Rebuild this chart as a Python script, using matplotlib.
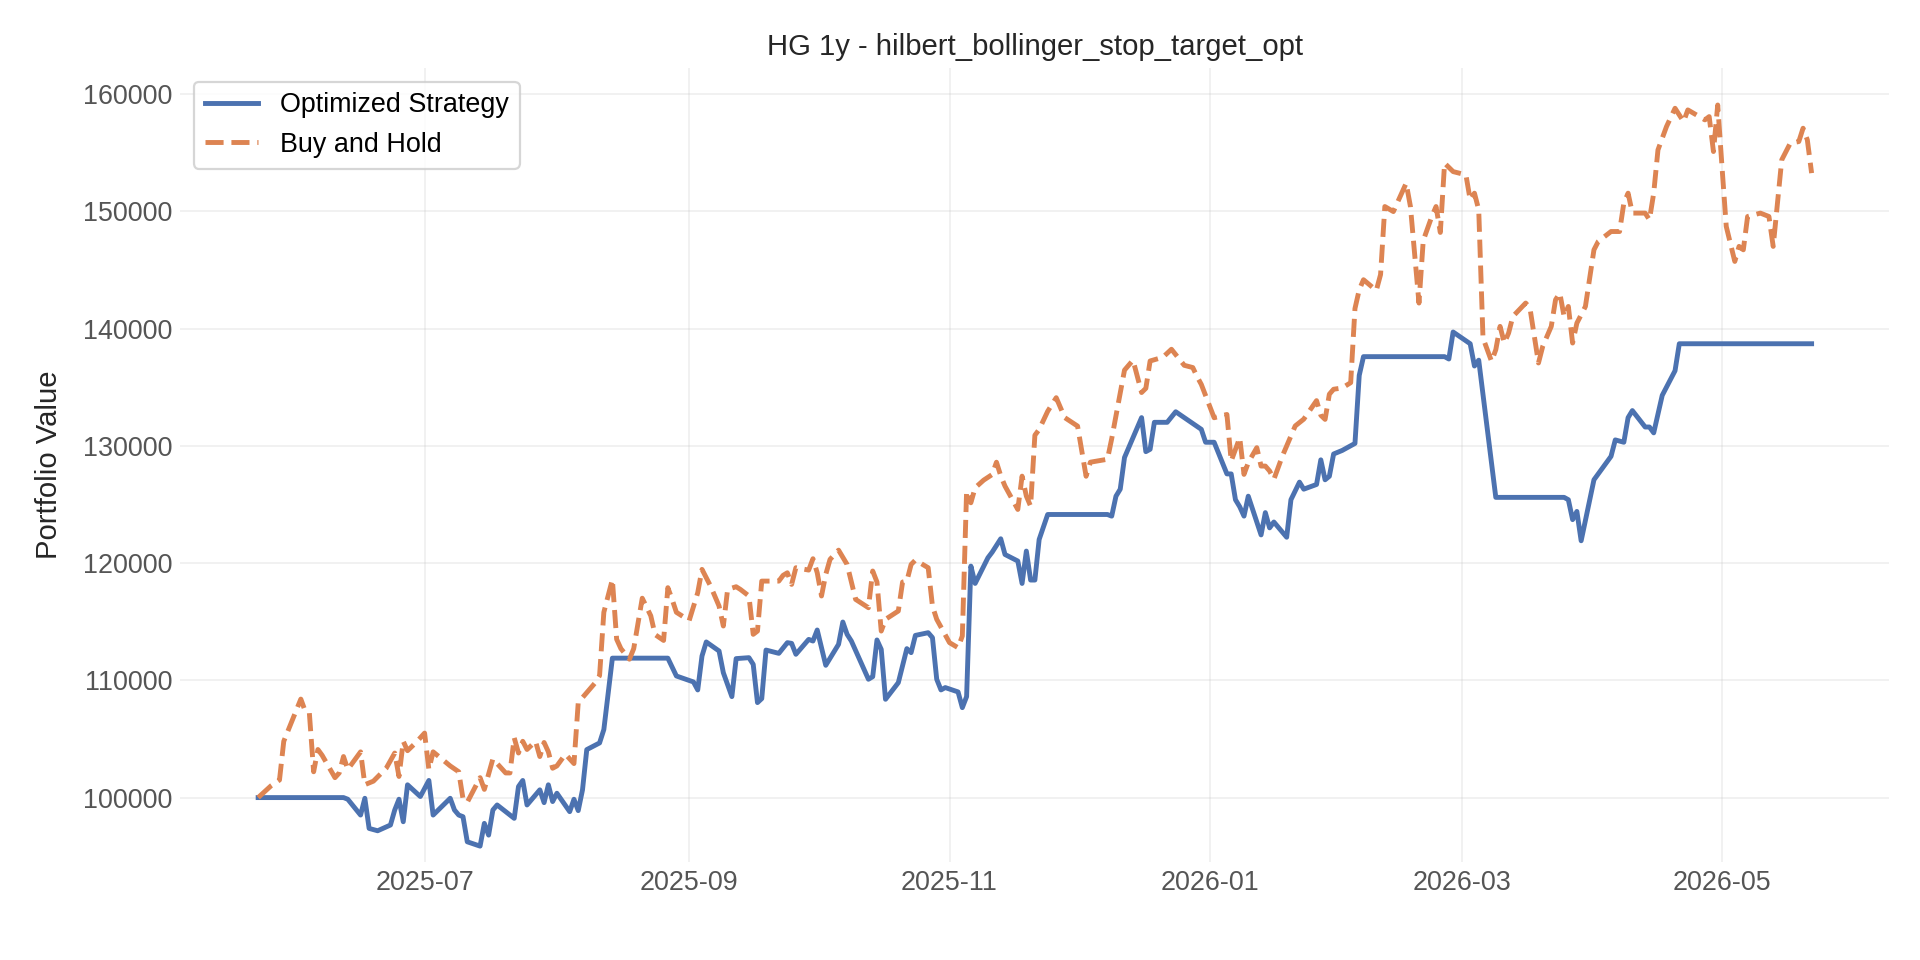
import matplotlib
matplotlib.use("Agg")
import matplotlib.pyplot as plt
import matplotlib.dates as mdates
import pandas as pd

# Optimized Strategy equity (dates + values)
strat_dates = [
    "2025-05-23", "2025-06-12", "2025-06-13", "2025-06-16", "2025-06-17", "2025-06-18",
    "2025-06-20", "2025-06-23", "2025-06-24", "2025-06-25", "2025-06-26", "2025-06-27",
    "2025-06-30", "2025-07-02", "2025-07-03", "2025-07-07", "2025-07-08", "2025-07-09",
    "2025-07-10", "2025-07-11", "2025-07-14", "2025-07-15", "2025-07-16", "2025-07-17",
    "2025-07-18", "2025-07-22", "2025-07-23", "2025-07-24", "2025-07-25", "2025-07-28",
    "2025-07-29", "2025-07-30", "2025-07-31", "2025-08-01", "2025-08-04", "2025-08-05",
    "2025-08-06", "2025-08-07", "2025-08-08", "2025-08-11", "2025-08-12", "2025-08-14",
    "2025-08-27", "2025-08-29", "2025-09-02", "2025-09-03", "2025-09-04", "2025-09-05",
    "2025-09-08", "2025-09-09", "2025-09-11", "2025-09-12", "2025-09-15", "2025-09-16",
    "2025-09-17", "2025-09-18", "2025-09-19", "2025-09-22", "2025-09-24", "2025-09-25",
    "2025-09-26", "2025-09-29", "2025-09-30", "2025-10-01", "2025-10-03", "2025-10-06",
    "2025-10-07", "2025-10-08", "2025-10-09", "2025-10-13", "2025-10-14", "2025-10-15",
    "2025-10-16", "2025-10-17", "2025-10-20", "2025-10-22", "2025-10-23", "2025-10-24",
    "2025-10-27", "2025-10-28", "2025-10-29", "2025-10-30", "2025-10-31", "2025-11-03",
    "2025-11-04", "2025-11-05", "2025-11-06", "2025-11-07", "2025-11-10", "2025-11-11",
    "2025-11-13", "2025-11-14", "2025-11-17", "2025-11-18", "2025-11-19", "2025-11-20",
    "2025-11-21", "2025-11-22", "2025-11-24", "2025-12-08", "2025-12-09", "2025-12-10",
    "2025-12-11", "2025-12-12", "2025-12-16", "2025-12-17", "2025-12-18", "2025-12-19",
    "2025-12-22", "2025-12-24", "2025-12-30", "2025-12-31", "2026-01-02", "2026-01-05",
    "2026-01-06", "2026-01-07", "2026-01-08", "2026-01-09", "2026-01-10", "2026-01-11",
    "2026-01-13", "2026-01-14", "2026-01-15", "2026-01-16", "2026-01-19", "2026-01-20",
    "2026-01-22", "2026-01-23", "2026-01-26", "2026-01-27", "2026-01-28", "2026-01-29",
    "2026-01-30", "2026-02-01", "2026-02-04", "2026-02-05", "2026-02-06", "2026-02-25",
    "2026-02-26", "2026-02-27", "2026-03-03", "2026-03-04", "2026-03-05", "2026-03-09",
    "2026-03-25", "2026-03-26", "2026-03-27", "2026-03-28", "2026-03-29", "2026-04-01",
    "2026-04-05", "2026-04-06", "2026-04-08", "2026-04-09", "2026-04-10", "2026-04-13",
    "2026-04-14", "2026-04-15", "2026-04-17", "2026-04-20", "2026-04-21", "2026-05-22",
]
strat_values = [
    100000, 100000, 99860, 98510, 99940, 97370,
    97170, 97660, 98940, 99860, 97940, 101090,
    100090, 101460, 98510, 99940, 98940, 98510,
    98370, 96230, 95860, 97800, 96800, 98940,
    99370, 98230, 100940, 101460, 99370, 100660,
    99570, 101090, 99660, 100370, 98800, 99860,
    98890, 100660, 104090, 104660, 105800, 111890,
    111890, 110370, 109860, 109180, 112070, 113270,
    112500, 110650, 108610, 111850, 111930, 111360,
    108100, 108440, 112580, 112300, 113210, 113150,
    112220, 113490, 113350, 114290, 111280, 113070,
    114970, 113920, 113350, 110090, 110310, 113440,
    112640, 108380, 109800, 112700, 112360, 113830,
    114060, 113640, 110090, 109180, 109380, 109010,
    107670, 108610, 119740, 118260, 120450, 120930,
    122070, 120730, 120170, 118260, 121020, 118550,
    118550, 122010, 124140, 124140, 124000, 125700,
    126300, 129000, 132400, 129500, 129700, 132000,
    132000, 132900, 131400, 130300, 130300, 127600,
    127600, 125400, 124800, 124000, 125700, 124600,
    122400, 124300, 123000, 123500, 122200, 125400,
    126900, 126300, 126700, 128800, 127100, 127400,
    129300, 129600, 130200, 136000, 137600, 137600,
    137400, 139700, 138700, 136800, 137300, 125600,
    125600, 125400, 123700, 124400, 121900, 127100,
    129100, 130500, 130300, 132400, 133000, 131600,
    131600, 131100, 134300, 136400, 138700, 138700,
]

# Buy and Hold equity
bh_dates = [
    "2025-05-23", "2025-05-26", "2025-05-28", "2025-05-29", "2025-05-30", "2025-06-02",
    "2025-06-03", "2025-06-04", "2025-06-05", "2025-06-06", "2025-06-07", "2025-06-10",
    "2025-06-11", "2025-06-12", "2025-06-13", "2025-06-16", "2025-06-17", "2025-06-19",
    "2025-06-22", "2025-06-24", "2025-06-25", "2025-06-26", "2025-06-27", "2025-06-29",
    "2025-07-01", "2025-07-02", "2025-07-03", "2025-07-07", "2025-07-09", "2025-07-10",
    "2025-07-11", "2025-07-14", "2025-07-15", "2025-07-17", "2025-07-20", "2025-07-21",
    "2025-07-22", "2025-07-23", "2025-07-24", "2025-07-25", "2025-07-27", "2025-07-28",
    "2025-07-29", "2025-07-30", "2025-07-31", "2025-08-01", "2025-08-03", "2025-08-05",
    "2025-08-06", "2025-08-10", "2025-08-11", "2025-08-12", "2025-08-14", "2025-08-15",
    "2025-08-16", "2025-08-18", "2025-08-19", "2025-08-21", "2025-08-23", "2025-08-24",
    "2025-08-26", "2025-08-27", "2025-08-28", "2025-08-29", "2025-09-01", "2025-09-03",
    "2025-09-04", "2025-09-06", "2025-09-08", "2025-09-09", "2025-09-10", "2025-09-12",
    "2025-09-13", "2025-09-15", "2025-09-16", "2025-09-17", "2025-09-18", "2025-09-22",
    "2025-09-23", "2025-09-24", "2025-09-25", "2025-09-26", "2025-09-29", "2025-09-30",
    "2025-10-01", "2025-10-02", "2025-10-03", "2025-10-04", "2025-10-06", "2025-10-08",
    "2025-10-10", "2025-10-13", "2025-10-14", "2025-10-15", "2025-10-16", "2025-10-17",
    "2025-10-20", "2025-10-21", "2025-10-22", "2025-10-23", "2025-10-24", "2025-10-27",
    "2025-10-28", "2025-10-29", "2025-11-01", "2025-11-03", "2025-11-04", "2025-11-05",
    "2025-11-06", "2025-11-07", "2025-11-09", "2025-11-11", "2025-11-12", "2025-11-13",
    "2025-11-14", "2025-11-17", "2025-11-18", "2025-11-19", "2025-11-20", "2025-11-21",
    "2025-11-22", "2025-11-24", "2025-11-26", "2025-11-28", "2025-12-01", "2025-12-03",
    "2025-12-04", "2025-12-08", "2025-12-09", "2025-12-12", "2025-12-14", "2025-12-16",
    "2025-12-17", "2025-12-18", "2025-12-21", "2025-12-23", "2025-12-26", "2025-12-28",
    "2025-12-29", "2025-12-30", "2026-01-02", "2026-01-05", "2026-01-06", "2026-01-08",
    "2026-01-09", "2026-01-10", "2026-01-12", "2026-01-13", "2026-01-14", "2026-01-15",
    "2026-01-16", "2026-01-18", "2026-01-21", "2026-01-23", "2026-01-26", "2026-01-27",
    "2026-01-28", "2026-01-29", "2026-01-30", "2026-02-01", "2026-02-03", "2026-02-04",
    "2026-02-05", "2026-02-06", "2026-02-09", "2026-02-10", "2026-02-11", "2026-02-13",
    "2026-02-16", "2026-02-17", "2026-02-19", "2026-02-20", "2026-02-22", "2026-02-23",
    "2026-02-24", "2026-02-25", "2026-02-27", "2026-03-02", "2026-03-03", "2026-03-04",
    "2026-03-05", "2026-03-06", "2026-03-08", "2026-03-09", "2026-03-10", "2026-03-11",
    "2026-03-12", "2026-03-13", "2026-03-16", "2026-03-17", "2026-03-19", "2026-03-20",
    "2026-03-22", "2026-03-23", "2026-03-24", "2026-03-25", "2026-03-26", "2026-03-27",
    "2026-03-28", "2026-03-30", "2026-04-01", "2026-04-02", "2026-04-05", "2026-04-07",
    "2026-04-08", "2026-04-09", "2026-04-10", "2026-04-13", "2026-04-14", "2026-04-15",
    "2026-04-16", "2026-04-18", "2026-04-20", "2026-04-22", "2026-04-23", "2026-04-27",
    "2026-04-28", "2026-04-29", "2026-04-30", "2026-05-01", "2026-05-02", "2026-05-04",
    "2026-05-05", "2026-05-06", "2026-05-07", "2026-05-10", "2026-05-12", "2026-05-13",
    "2026-05-15", "2026-05-17", "2026-05-19", "2026-05-20", "2026-05-21", "2026-05-22",
]
bh_values = [
    100000, 101000, 101500, 104800, 105700, 108400,
    107400, 107200, 102200, 104100, 103600, 101700,
    102100, 103500, 102400, 103900, 101100, 101400,
    102500, 103800, 101800, 104800, 104000, 104700,
    105500, 102400, 103900, 102700, 102200, 99900,
    99600, 101700, 100700, 103300, 102100, 102100,
    105100, 103800, 104800, 104100, 104800, 103500,
    104700, 103900, 102500, 102700, 103700, 102900,
    108100, 109800, 110400, 115800, 118600, 113500,
    112700, 111800, 112700, 117000, 115500, 113900,
    113400, 117900, 116900, 115800, 115100, 117470,
    119460, 118040, 116330, 114630, 117750, 117980,
    117750, 117190, 113920, 114200, 118460, 118460,
    118950, 119170, 118180, 119600, 119400, 120370,
    119170, 117190, 119030, 120310, 121100, 119880,
    116900, 116190, 119320, 118380, 114200, 115200,
    115910, 118380, 118460, 119880, 120250, 119600,
    116330, 115200, 113210, 112780, 113780, 126130,
    125140, 126420, 127070, 127550, 128600, 127440,
    126560, 124570, 127410, 125710, 124850, 130900,
    131390, 132940, 134100, 132400, 131680, 127400,
    128600, 128850, 130600, 136450, 137300, 134540,
    134900, 137230, 137550, 138230, 136860, 136670,
    135900, 135230, 132390, 132670, 128700, 130690,
    127560, 128560, 129840, 128270, 128270, 127850,
    127140, 129130, 131690, 132270, 133850, 132600,
    132250, 134400, 134820, 134930, 135380, 141700,
    143300, 144160, 143240, 144600, 150400, 149970,
    152390, 150400, 142170, 147500, 149550, 150400,
    148190, 154100, 153380, 153100, 150970, 151540,
    150120, 139190, 137200, 138190, 140180, 138760,
    139610, 141030, 142170, 141750, 137060, 138480,
    140180, 142450, 143020, 141030, 141880, 138760,
    140460, 141880, 146710, 147420, 148270, 148270,
    150690, 151540, 149840, 149840, 149270, 151540,
    155230, 157220, 158780, 157640, 158640, 157790,
    158070, 155090, 159060, 153810, 148700, 145720,
    147000, 146710, 149550, 149840, 149550, 147000,
    154380, 155800, 155940, 157080, 156080, 153250,
]

plt.rcParams["font.family"] = ["Liberation Sans", "DejaVu Sans"]

fig, ax = plt.subplots(figsize=(12, 6), dpi=160)
fig.subplots_adjust(left=0.094, right=0.984, bottom=0.102, top=0.929)

ax.plot(pd.to_datetime(strat_dates), strat_values, color="#4C72B0", linewidth=2.2,
        label="Optimized Strategy")
ax.plot(pd.to_datetime(bh_dates), bh_values, color="#DD8452", linewidth=2.2,
        linestyle="--", label="Buy and Hold")

ax.set_title("HG 1y - hilbert_bollinger_stop_target_opt", fontsize=13.2, color="#262626")
ax.set_ylabel("Portfolio Value", fontsize=13.2, color="#262626", labelpad=9)
ax.set_ylim(94500, 162200)

ax.xaxis.set_major_locator(mdates.MonthLocator(bymonth=[1, 3, 5, 7, 9, 11]))
ax.xaxis.set_major_formatter(mdates.DateFormatter("%Y-%m"))

ax.grid(True, color="#cccccc", alpha=0.3, linewidth=0.8)
for s in ax.spines.values():
    s.set_visible(False)
ax.tick_params(axis="both", length=0, labelsize=12.1, labelcolor="#555555", pad=3.5)

ax.legend(loc="upper left", fontsize=12.1, edgecolor="#cccccc")

plt.savefig("out.png", dpi=160)
